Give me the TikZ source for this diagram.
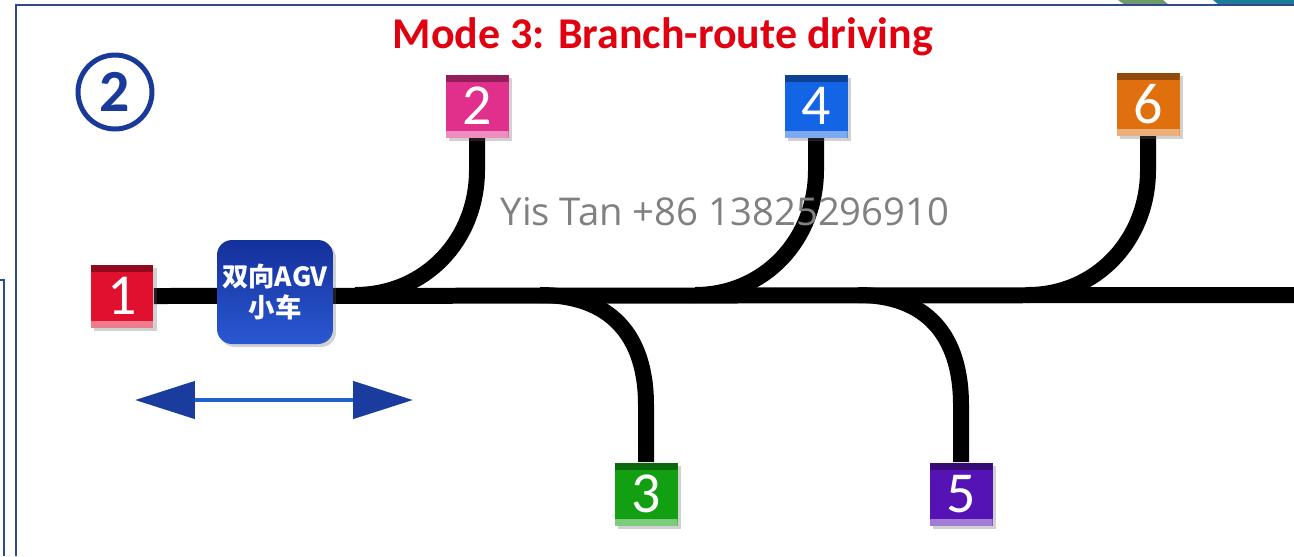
\documentclass[tikz,border=0pt]{standalone}
\usepackage{fontspec}
\setmainfont{Carlito}
\newfontfamily\cjkfont{Noto Sans CJK SC}
\newfontfamily\wmfont{Open Sans}
\usetikzlibrary{arrows.meta,shadows}
\definecolor{framec}{HTML}{2E4A8A}
\definecolor{titlered}{HTML}{E00010}
\definecolor{circblue}{HTML}{1A3A9A}
\definecolor{c1}{HTML}{E0102E}
\definecolor{c2}{HTML}{E0308C}
\definecolor{c3}{HTML}{12A012}
\definecolor{c4}{HTML}{1464E6}
\definecolor{c5}{HTML}{5512B4}
\definecolor{c6}{HTML}{E0700E}
\definecolor{agvtop}{HTML}{14309A}
\definecolor{agvbot}{HTML}{2A58D2}
\definecolor{headblue}{HTML}{1A3C9E}
\definecolor{shaftblue}{HTML}{2060D0}
\definecolor{wmgray}{HTML}{808080}
\definecolor{decgreen}{HTML}{6E9A6A}
\definecolor{decteal}{HTML}{1E7A9A}
\pgfdeclarelayer{bg}
\pgfsetlayers{bg,main}
\tikzset{
  numbox/.style={minimum width=1.26cm, minimum height=1.26cm, inner sep=0pt,
    text=white, font=\fontsize{33}{33}\selectfont, fill=#1,
    drop shadow={shadow xshift=0.07cm, shadow yshift=-0.07cm, opacity=0.3, fill=black!60},
    path picture={
      \fill[#1!65!black] (path picture bounding box.north west) rectangle ([yshift=-0.15cm]path picture bounding box.north east);
      \fill[#1!55!white] (path picture bounding box.south west) rectangle ([yshift=0.13cm]path picture bounding box.south east);
    }},
  track/.style={line width=0.32cm, black},
  agvbox/.style={rounded corners=0.3cm, minimum width=2.32cm, minimum height=2.08cm,
    top color=agvtop, bottom color=agvbot, text=white, align=center,
    font=\cjkfont\bfseries\fontsize{15}{17.5}\selectfont, inner sep=0pt,
    drop shadow={shadow xshift=0.06cm, shadow yshift=-0.06cm, opacity=0.3, fill=black!60}},
  framel/.style={framec, line width=0.045cm},
}
\begin{document}
\begin{tikzpicture}[x=0.02cm, y=-0.02cm]
\useasboundingbox (0,0) rectangle (1294,556);
% top-right decorations
\fill[decgreen] (1118,0) -- (1163,0) -- (1169,5) -- (1125,5) -- cycle;
\fill[decteal] (1213,0) -- (1294,0) -- (1294,5) -- (1219,5) -- cycle;
% frames
\draw[framel] (16,556) -- (16,5) -- (1294,5);
\draw[framel] (0,280) -- (4,280) -- (4,556);
% title
\node[font=\bfseries\fontsize{25}{25}\selectfont, text=titlered] (title) at (663,37) {Mode 3: Branch-route driving};
% circled 2
\node[circle, draw=circblue, line width=0.1cm, minimum size=1.48cm, inner sep=0pt,
  text=circblue, font=\bfseries\fontsize{34}{34}\selectfont] (circ) at (115,92) {2};
% number boxes
\node[numbox=c1] (n1) at (122,296) {1};
\node[numbox=c2] (n2) at (477,106) {2};
\node[numbox=c4] (n4) at (816,106) {4};
\node[numbox=c6] (n6) at (1148,104) {6};
\node[numbox=c3] (n3) at (646,494) {3};
\node[numbox=c5] (n5) at (961,494) {5};
% AGV
\node[agvbox] (agv) at (275,292) {双向AGV\\小车};
% junction coordinates
\coordinate (mainend) at (1294,295);
\coordinate (j2) at (355,295);
\coordinate (j4) at (695,295);
\coordinate (j6) at (1028,295);
\coordinate (j3) at (540,295);
\coordinate (j5) at (858,295);
\begin{pgfonlayer}{bg}
\draw[track] (n1.east) -- (mainend);
\draw[track] (n2.south) -- (477,170) .. controls (477,240) and (425,295) .. (j2);
\draw[track] (n4.south) -- (816,170) .. controls (816,240) and (764,295) .. (j4);
\draw[track] (n6.south) -- (1148,170) .. controls (1148,240) and (1096,295) .. (j6);
\draw[track] (j3) .. controls (610,295) and (646,335) .. (646,405) -- (n3.north);
\draw[track] (j5) .. controls (926,295) and (961,335) .. (961,405) -- (n5.north);
\end{pgfonlayer}
% watermark
\node[font=\wmfont\fontsize{21.8}{21.8}\selectfont, text=wmgray] (wm) at (725,212) {Yis Tan +86 13825296910};
% double arrow
\coordinate (arrL) at (135,400);
\coordinate (arrR) at (413,400);
\draw[shaftblue, line width=0.09cm,
  {Triangle[length=1.2cm, width=0.74cm, color=headblue]}-{Triangle[length=1.2cm, width=0.74cm, color=headblue]}]
  (arrL) -- (arrR);
\end{tikzpicture}
\end{document}
